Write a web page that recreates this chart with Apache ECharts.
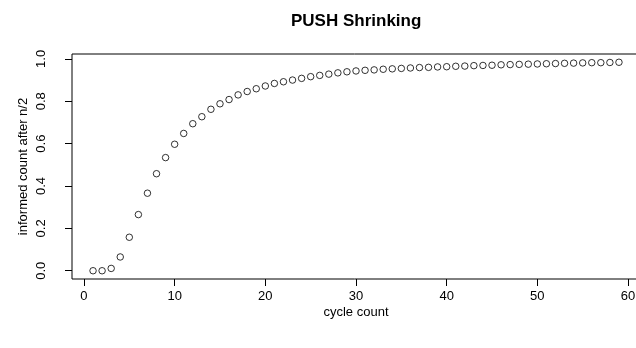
<!DOCTYPE html>
<html>
<head>
<meta charset="utf-8">
<script src="https://cdn.jsdelivr.net/npm/echarts@6/dist/echarts.min.js"></script>
<style>
  html, body { margin: 0; padding: 0; background: #fff; }
  #chart { width: 636px; height: 348px; }
</style>
</head>
<body>
<div id="chart"></div>
<script>
// cycle number and informed fraction after n/2
const cycles = [
  1, 2, 3, 4, 5, 6, 7, 8, 9, 10,
  11, 12, 13, 14, 15, 16, 17, 18, 19, 20,
  21, 22, 23, 24, 25, 26, 27, 28, 29, 30,
  31, 32, 33, 34, 35, 36, 37, 38, 39, 40,
  41, 42, 43, 44, 45, 46, 47, 48, 49, 50,
  51, 52, 53, 54, 55, 56, 57, 58, 59
]
const informed = [
  0.000, 0.000, 0.011, 0.065, 0.158, 0.265, 0.366, 0.458, 0.534, 0.597,
  0.648, 0.694, 0.727, 0.762, 0.788, 0.808, 0.830, 0.846, 0.859, 0.872,
  0.884, 0.892, 0.900, 0.908, 0.916, 0.922, 0.928, 0.934, 0.939, 0.943,
  0.946, 0.948, 0.951, 0.953, 0.955, 0.957, 0.959, 0.960, 0.962, 0.963,
  0.965, 0.966, 0.968, 0.969, 0.970, 0.972, 0.973, 0.974, 0.975, 0.976,
  0.977, 0.978, 0.979, 0.980, 0.981, 0.982, 0.982, 0.983, 0.984
]
const xTicks = [0, 10, 20, 30, 40, 50, 60]
const yTicks = [0, 0.2, 0.4, 0.6, 0.8, 1.0]

const font = 'Liberation Sans, Arial, sans-serif'

const option = {
  animation: false,
  title: {
    text: 'PUSH Shrinking',
    left: 291,
    top: 13,
    padding: 0,
    textStyle: { color: '#000', fontSize: 17, fontWeight: 'bold', fontFamily: font },
  },
  grid: {
    show: true,
    left: 72,
    top: 54,
    right: -4,
    bottom: 69,
    outerBoundsMode: 'none',
    borderColor: '#000',
    borderWidth: 1,
  },
  xAxis: {
    type: 'value',
    min: -1.32,
    max: 61.32,
    name: 'cycle count',
    nameLocation: 'middle',
    nameGap: 27,
    nameMoveOverlap: false,
    nameTextStyle: { color: '#000', fontSize: 13, fontFamily: font },
    axisLine: { show: false, onZero: false },
    splitLine: { show: false },
    axisTick: {
      show: true,
      length: 7,
      customValues: xTicks,
      lineStyle: { color: '#000' },
    },
    axisLabel: {
      customValues: xTicks,
      margin: 11,
      color: '#000',
      fontSize: 13,
      fontFamily: font,
    },
  },
  yAxis: {
    type: 'value',
    min: -0.039,
    max: 1.023,
    name: 'informed count after n/2',
    nameLocation: 'middle',
    nameRotate: 90,
    nameGap: 42,
    nameMoveOverlap: false,
    nameTextStyle: { color: '#000', fontSize: 13, fontFamily: font },
    axisLine: { show: false, onZero: false },
    splitLine: { show: false },
    axisTick: {
      show: true,
      length: 7,
      customValues: yTicks,
      lineStyle: { color: '#000' },
    },
    axisLabel: {
      customValues: yTicks,
      rotate: 90,
      margin: 24,
      color: '#000',
      fontSize: 13,
      fontFamily: font,
      formatter: (v) => v.toFixed(1),
    },
  },
  series: [
    {
      type: 'scatter',
      data: cycles.map((c, i) => [c, informed[i]]),
      symbol: 'circle',
      symbolSize: 6.5,
      itemStyle: {
        color: '#fff',
        borderColor: '#000',
        borderWidth: 1,
      },
    },
  ],
}

const chart = echarts.init(document.getElementById('chart'))
chart.setOption(option)
</script>
</body>
</html>
